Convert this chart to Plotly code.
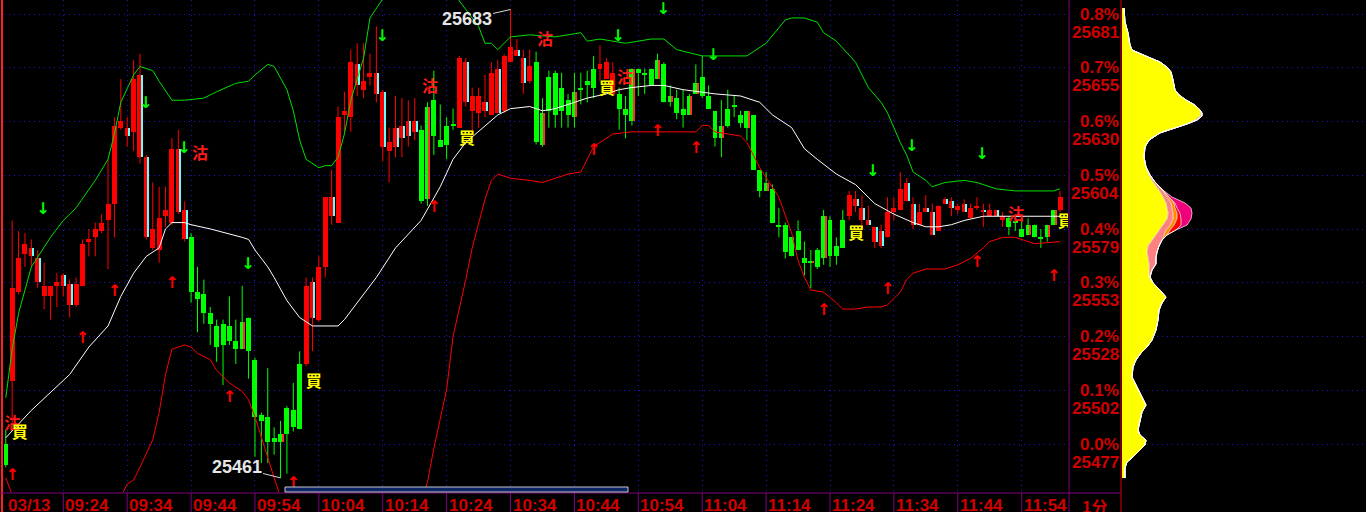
import plotly.graph_objects as go

# ---------------- data ----------------
base_price = 25477            # previous close (0.0%)
session_date = "03/13"
period_label = "1分"

# 1-minute bars, index 0 = 09:15 ... 165 = 12:00
open_ = [25477,25507,25549,25567,25570,25565,25547,25547,25552,25557,25553,25543,25552,25573,25575,25578,25583,25591,25627,25627,
         25625,25652,25613,25570,25569,25585,25582,25617,25588,25575,25549,25548,25539,25533,25534,25533,25526,25522,25537,25517,
         25491,25490,25480,25478,25494,25493,25515,25515,25554,25536,25561,25594,25582,25633,25632,25657,25645,25651,25653,25644,
         25616,25627,25628,25630,25630,25626,25593,25640,25621,25628,25628,25627,25658,25635,25634,25639,25633,25655,25635,25658,
         25664,25660,25649,25658,25619,25651,25653,25646,25640,25632,25645,25649,25655,25655,25650,25643,25643,25636,25630,25655,
         25653,25655,25650,25657,25639,25641,25636,25633,25643,25651,25642,25635,25622,25636,25637,25633,25627,25633,25607,25597,
         25598,25581,25581,25575,25578,25565,25563,25569,25565,25583,25571,25583,25585,25593,25589,25583,25580,25578,25575,25587,
         25588,25601,25591,25581,25589,25587,25578,25593,25592,25588,25591,25584,25589,25588,25585,25588,25583,25584,25582,25579,
         25576,25581,25575,25575,25581,25588]
high = [25484,25583,25578,25577,25574,25569,25563,25552,25558,25558,25555,25556,25574,25579,25582,25586,25612,25632,25650,25632,
        25659,25662,25614,25601,25599,25599,25622,25626,25592,25577,25561,25555,25542,25536,25536,25547,25536,25552,25537,25518,
        25492,25513,25485,25488,25495,25506,25521,25556,25556,25566,25594,25607,25637,25644,25664,25667,25667,25662,25675,25645,
        25627,25642,25641,25640,25641,25628,25639,25654,25638,25632,25636,25661,25660,25646,25646,25652,25658,25659,25662,25683,
        25669,25664,25664,25663,25641,25654,25654,25653,25643,25653,25653,25654,25661,25666,25660,25658,25646,25642,25655,25655,
        25655,25655,25662,25658,25647,25645,25645,25643,25657,25661,25647,25635,25640,25645,25642,25635,25635,25633,25607,25606,
        25600,25589,25582,25575,25583,25573,25569,25570,25588,25585,25575,25588,25597,25597,25595,25590,25580,25581,25594,25594,
        25606,25603,25594,25591,25595,25591,25590,25594,25594,25591,25593,25591,25594,25591,25591,25588,25587,25585,25585,25583,
        25584,25581,25579,25581,25588,25597]
low = [25466,25487,25548,25561,25561,25551,25541,25536,25542,25547,25537,25542,25552,25566,25566,25577,25560,25575,25626,25618,
       25616,25610,25574,25569,25563,25580,25581,25586,25573,25544,25530,25534,25524,25516,25505,25524,25515,25522,25508,25471,
       25468,25468,25472,25461,25463,25483,25484,25514,25521,25535,25556,25581,25582,25625,25625,25642,25641,25647,25639,25611,
       25601,25613,25613,25618,25621,25591,25590,25614,25618,25612,25626,25627,25637,25625,25627,25632,25633,25634,25634,25658,
       25661,25643,25648,25619,25618,25627,25627,25627,25627,25627,25638,25639,25641,25649,25650,25643,25626,25622,25628,25642,
       25643,25647,25650,25639,25637,25631,25627,25633,25643,25641,25636,25618,25613,25627,25632,25627,25621,25607,25594,25597,
       25582,25575,25565,25566,25569,25557,25551,25560,25562,25561,25562,25570,25583,25587,25579,25581,25570,25570,25575,25583,
       25588,25592,25579,25581,25587,25576,25578,25591,25585,25586,25587,25584,25588,25580,25585,25585,25580,25576,25578,25575,
       25576,25575,25570,25573,25581,25587]
close = [25467,25551,25565,25572,25566,25554,25552,25552,25554,25552,25543,25553,25572,25574,25579,25582,25591,25628,25630,25623,
         25650,25613,25575,25579,25584,25588,25617,25587,25574,25549,25546,25539,25534,25523,25524,25526,25522,25535,25521,25490,
         25488,25478,25478,25482,25482,25485,25484,25552,25537,25561,25594,25585,25632,25635,25658,25647,25649,25653,25643,25618,
         25620,25618,25622,25623,25625,25592,25637,25623,25618,25619,25628,25660,25639,25642,25642,25635,25653,25634,25661,25665,
         25661,25648,25656,25620,25634,25635,25633,25635,25633,25644,25645,25647,25646,25657,25658,25653,25636,25633,25655,25653,
         25652,25647,25659,25639,25642,25634,25633,25642,25648,25642,25636,25622,25628,25628,25637,25629,25635,25607,25597,25601,
         25582,25580,25568,25566,25569,25563,25564,25561,25585,25566,25566,25570,25595,25590,25583,25581,25573,25571,25587,25589,
         25598,25592,25581,25587,25587,25576,25590,25591,25589,25590,25587,25589,25589,25587,25588,25585,25585,25580,25582,25575,
         25581,25575,25574,25581,25588,25594]
# signal colour of each bar (R = red regime, G = green regime)
regime = ("G" + "R" * 28 + "G" * 18 + "R" * 18 + "G" * 6 + "R" * 12 + "G" * 10 + "R" * 3
          + "G" * 36 + "R" * 25 + "G" * 8 + "R")

# bands (bar index, price)
upper_x = [0,1,2,4,7,9,11,14,16,17,18,20,21,23,24,26,28,31,33,36,38,39,41,42,44,45,46,47,49,50,51,52,53,54,56,57,59,62,66,70,
           71,74,75,76,77,79,82,86,88,90,91,93,97,101,103,105,109,116,119,122,123,125,127,128,130,133,135,137,138,139,140,141,142,
           144,145,147,150,152,155,158,164,165]
upper_y = [25499,25522,25539,25561,25575,25583,25589,25602,25612,25624,25639,25652,25656,25654,25649,25640,25640,25641,25644,
           25648,25649,25652,25657,25656,25645,25635,25621,25612,25608,25609,25609,25613,25624,25640,25660,25679,25688,25700,
           25705,25695,25687,25675,25667,25667,25664,25670,25671,25670,25671,25672,25668,25669,25667,25669,25669,25664,25661,
           25661,25667,25678,25679,25679,25677,25672,25668,25658,25646,25639,25634,25627,25620,25614,25606,25602,25599,25601,
           25602,25601,25598,25597,25597,25598]
mid_x = [0,4,10,13,16,18,20,22,24,25,26,28,29,32,37,38,39,41,42,44,46,48,49,52,53,58,61,65,68,70,72,75,77,79,82,84,86,89,91,94,
         96,98,101,103,106,111,115,118,120,123,125,127,130,133,136,139,142,144,146,148,150,153,158,165]
mid_y = [25480,25493,25510,25523,25533,25547,25558,25566,25570,25579,25582,25582,25581,25579,25575,25574,25569,25561,25556,
         25545,25537,25533,25533,25533,25536,25556,25570,25583,25599,25612,25620,25628,25633,25636,25637,25635,25636,25639,
         25641,25643,25645,25646,25647,25647,25645,25643,25642,25639,25633,25627,25617,25612,25605,25600,25591,25586,25582,
         25580,25580,25581,25583,25585,25585,25585]
lower_x = [0,2,8,14,18,19,20,21,23,24,25,26,28,29,30,32,33,35,37,38,39,40,41,42,43,48,56,62,66,67,69,70,72,73,75,76,77,79,82,84,
           86,88,90,91,92,95,98,101,105,108,109,110,111,113,115,116,118,121,123,124,125,126,128,130,131,133,135,137,138,140,141,
           142,144,147,148,149,151,153,154,156,158,160,161,165]
lower_y = [25461,25445,25430,25435,25452,25458,25460,25466,25479,25492,25510,25522,25524,25523,25520,25517,25512,25506,25502,
           25498,25490,25480,25471,25461,25452,25420,25400,25420,25459,25475,25503,25528,25555,25570,25593,25602,25605,25603,
           25602,25601,25603,25605,25606,25612,25618,25624,25625,25625,25625,25625,25628,25628,25625,25624,25623,25620,25608,
           25594,25577,25564,25556,25550,25549,25544,25541,25541,25542,25542,25543,25549,25555,25558,25560,25560,25561,25562,
           25565,25570,25573,25575,25575,25573,25572,25573]

# trade signals
sell_x = [1.0, 30.4, 66.4, 84.4, 96.9, 158.1]
sell_y = [25486, 25614, 25646, 25668, 25650, 25585]
buy_x = [2.2, 48.2, 72.2, 94.1, 133.1, 165.9]
buy_y = [25482, 25506, 25621, 25645, 25576, 25582]
down_arrow_x = [5.8, 21.9, 27.9, 37.9, 58.9, 83.0, 95.8, 102.9, 110.7, 135.7, 141.8, 152.8]
down_arrow_y = [25588, 25638, 25617, 25562, 25670, 25690, 25670, 25683, 25661, 25606, 25618, 25614]
up_arrow_x = [1, 12, 17, 26, 35, 45, 67, 92, 102, 108, 128, 138, 152, 164]
up_arrow_y = [25462, 25527, 25549, 25553, 25499, 25458, 25589, 25616, 25625, 25617, 25540, 25550, 25563, 25556]

# extremes
hi_bar, hi_price = 79, 25683
lo_bar, lo_price = 43, 25461

# axis labels
time_tick_bars = [9, 19, 29, 39, 49, 59, 69, 79, 89, 99, 109, 119, 129, 139, 149, 159]
time_tick_labels = ["09:24", "09:34", "09:44", "09:54", "10:04", "10:14", "10:24", "10:34",
                    "10:44", "10:54", "11:04", "11:14", "11:24", "11:34", "11:44", "11:54"]
pct_ticks = [0.8, 0.7, 0.6, 0.5, 0.4, 0.3, 0.2, 0.1, 0.0]
pct_labels = ["0.8%", "0.7%", "0.6%", "0.5%", "0.4%", "0.3%", "0.2%", "0.1%", "0.0%"]
price_labels = ["25681", "25655", "25630", "25604", "25579", "25553", "25528", "25502", "25477"]

# volume-at-price profile (price, width per layer)
vp_price = [25683.7,25680.9,25677.1,25671.9,25666.2,25663.8,25662.4,25660.5,25658.1,25655.7,25653.4,25649.6,25644.8,25642.5,
            25640.1,25637.7,25635.4,25633.9,25632.5,25630.6,25628.7,25626.8,25624.5,25621.1,25617.8,25613.1,25608.3,25604.6,
            25601.2,25597.4,25594.1,25591.3,25588.9,25586.5,25583.7,25580.8,25578.5,25576.1,25573.7,25570.9,25568.0,25565.2,
            25562.4,25559.5,25556.2,25553.4,25550.0,25546.7,25543.9,25540.5,25535.8,25531.1,25526.3,25523.0,25520.2,25516.9,
            25513.5,25508.8,25504.1,25499.3,25495.5,25492.2,25488.4,25483.7,25481.3,25478.9,25476.6,25474.2,25470.9,25468.5,
            25465.7,25460.9]
vp_yellow = [2,2,3,6,8,10,16,26,38,45,49,51,53,57,64,73,78,79,78,73,64,52,38,27,23,22,24,27,31,37,41,44,45,46,45,41,37,34,30,
             26,25,26,27,27,27,31,38,44,40,37,36,34,30,25,19,14,11,10,15,20,24,20,18,16,18,24,23,18,11,5,3,3]
vp_salmon = [0]*17 + [1,2,2,1,1] + [0]*5 + [1,2,3,4,5,5,5,6,7,7,8,10,11,10,8,7,3,1] + [0]*27
vp_orange = [0]*29 + [1,2,3,3,4,4,4,4,3] + [0]*34
vp_red = [0]*30 + [0,1,2,3,4,7,6] + [0]*35
vp_magenta = [0]*30 + [3,10,14,12,10,6] + [0]*36

# ---------------- figure ----------------
W, H = 1366, 512
fig = go.Figure()

RED, GREEN = "#ff0000", "#00ff00"
for reg, col in (("R", RED), ("G", GREEN)):
    idx = [i for i in range(len(open_)) if regime[i] == reg]
    wx, wy = [], []
    for i in idx:
        wx += [i, i, None]
        wy += [low[i], high[i], None]
    fig.add_trace(go.Scatter(x=wx, y=wy, mode="lines", line=dict(color=col, width=1),
                             hoverinfo="skip"))
    fig.add_trace(go.Bar(x=idx, y=[max(abs(close[i] - open_[i]), 0.6) for i in idx],
                         base=[min(open_[i], close[i]) for i in idx], width=0.78,
                         marker=dict(color=col, line=dict(width=0)), hoverinfo="skip"))
# edge highlight: red bars that fell (cyan edge) / green bars that rose (red edge)
for reg, cond, col in (("R", lambda i: close[i] < open_[i], "#66ffff"),
                       ("G", lambda i: close[i] > open_[i], "#ff3030")):
    idx = [i for i in range(len(open_)) if regime[i] == reg and cond(i)]
    fig.add_trace(go.Bar(x=idx, y=[abs(close[i] - open_[i]) for i in idx],
                         base=[min(open_[i], close[i]) for i in idx], width=0.16, offset=0.23,
                         marker=dict(color=col, line=dict(width=0)), hoverinfo="skip"))

fig.add_trace(go.Scatter(x=upper_x, y=upper_y, mode="lines", line=dict(color="#00e000", width=1), hoverinfo="skip"))
fig.add_trace(go.Scatter(x=lower_x, y=lower_y, mode="lines", line=dict(color="#ff0000", width=1), hoverinfo="skip"))
fig.add_trace(go.Scatter(x=mid_x, y=mid_y, mode="lines", line=dict(color="#ffffff", width=1), hoverinfo="skip"))

fig.add_trace(go.Scatter(x=down_arrow_x, y=down_arrow_y, mode="text", text=["<b>↓</b>"] * len(down_arrow_x),
                         textfont=dict(color="#00ff00", size=16, family="DejaVu Sans"), hoverinfo="skip"))
fig.add_trace(go.Scatter(x=up_arrow_x, y=up_arrow_y, mode="text", text=["<b>↑</b>"] * len(up_arrow_x),
                         textfont=dict(color="#ff0000", size=16, family="DejaVu Sans"), hoverinfo="skip"))
fig.add_trace(go.Scatter(x=sell_x, y=sell_y, mode="text", text=["<b>沽</b>"] * len(sell_x),
                         textfont=dict(color="#ff1a1a", size=16, family="Noto Sans CJK TC"), hoverinfo="skip"))
fig.add_trace(go.Scatter(x=buy_x, y=buy_y, mode="text", text=["<b>買</b>"] * len(buy_x),
                         textfont=dict(color="#ffff00", size=16, family="Noto Sans CJK TC"), hoverinfo="skip"))

# volume profile
for vals, col in ((vp_yellow, "#ffff00"), (vp_salmon, "#ff8080"), (vp_orange, "#ff8c00"),
                  (vp_red, "#ff0000"), (vp_magenta, "#f0007a")):
    fig.add_trace(go.Scatter(x=vals, y=vp_price, xaxis="x2", yaxis="y", stackgroup="vp", orientation="h",
                             mode="lines", line=dict(color="#ffffff", width=0.7), fillcolor=col,
                             hoverinfo="skip"))

grid_prices = [base_price * (1 + p / 100) for p in pct_ticks]
GRID = "#1818c8"
y_lo, y_hi = 25454.3, 25687.5
fig.update_layout(
    width=W, height=H, margin=dict(l=0, r=0, t=0, b=0),
    paper_bgcolor="#000000", plot_bgcolor="#000000", showlegend=False,
    barmode="overlay", bargap=0,
    xaxis=dict(domain=[4 / W, 1068 / W], range=[-0.28, 166.25], tickmode="array", tickvals=time_tick_bars,
               showticklabels=False, ticks="", showgrid=True, gridcolor=GRID, griddash="1px,4px", gridwidth=1,
               zeroline=False, showline=False),
    yaxis=dict(domain=[20 / H, 1], range=[y_lo, y_hi], tickmode="array", tickvals=grid_prices,
               showticklabels=False, ticks="", showgrid=True, gridcolor=GRID, griddash="1px,4px", gridwidth=1,
               zeroline=False, showline=False),
    xaxis2=dict(domain=[1122 / W, 1], range=[0, 244], anchor="y", visible=False, showgrid=False,
                zeroline=False),
)

LBL = "#d00000"
ann = []
for p, pl, pr in zip(grid_prices, pct_labels, price_labels):
    ann.append(dict(x=1121 / W, xref="paper", y=p, yref="y", text=f"<b>{pl}</b>", showarrow=False,
                    xanchor="right", yanchor="middle", font=dict(color=LBL, size=17, family="Liberation Sans")))
    ann.append(dict(x=1121 / W, xref="paper", y=p, yref="y", yshift=-18, text=f"<b>{pr}</b>", showarrow=False,
                    xanchor="right", yanchor="middle", font=dict(color=LBL, size=17, family="Liberation Sans")))
for b, t in zip(time_tick_bars, time_tick_labels):
    ann.append(dict(x=b, xref="x", xshift=0, y=(H - 494) / H, yref="paper", text=f"<b>{t}</b>", showarrow=False,
                    xanchor="left", yanchor="top", font=dict(color=LBL, size=17, family="Liberation Sans")))
ann.append(dict(x=6 / W, xref="paper", y=(H - 494) / H, yref="paper", text=f"<b>{session_date}</b>",
                showarrow=False, xanchor="left", yanchor="top", font=dict(color=LBL, size=17, family="Liberation Sans")))
ann.append(dict(x=1094 / W, xref="paper", y=(H - 492) / H, yref="paper", text=f"<b>{period_label}</b>",
                showarrow=False, xanchor="center", yanchor="top",
                font=dict(color=LBL, size=16, family="Noto Sans CJK SC")))
ann.append(dict(x=hi_bar, y=hi_price, xref="x", yref="y", text=f"<b>{hi_price}</b>", showarrow=True,
                arrowhead=0, arrowwidth=1, arrowcolor="#d8d8d8", ax=-44, ay=10,
                font=dict(color="#e6e6e6", size=18, family="Liberation Sans")))
ann.append(dict(x=lo_bar, y=lo_price, xref="x", yref="y", text=f"<b>{lo_price}</b>", showarrow=True,
                arrowhead=0, arrowwidth=1, arrowcolor="#d8d8d8", ax=-44, ay=-11,
                font=dict(color="#e6e6e6", size=18, family="Liberation Sans")))
fig.update_layout(annotations=ann)

PURPLE = "#800080"
line_y = (H - 493) / H
shapes = [
    dict(type="line", xref="paper", yref="paper", x0=2 / W, x1=2 / W, y0=0, y1=1, line=dict(color="#ff2020", width=2)),
    dict(type="line", xref="paper", yref="paper", x0=1069 / W, x1=1069 / W, y0=0, y1=1, line=dict(color=PURPLE, width=1)),
    dict(type="line", xref="paper", yref="paper", x0=1121 / W, x1=1121 / W, y0=0, y1=1, line=dict(color="#e00000", width=1)),
    dict(type="line", xref="paper", yref="paper", x0=0, x1=1121 / W, y0=line_y, y1=line_y, line=dict(color=PURPLE, width=1)),
    dict(type="rect", xref="paper", yref="paper", x0=285 / W, x1=628 / W, y0=(H - 492) / H, y1=(H - 487) / H,
         fillcolor="#0a2466", line=dict(color="#c8c8c8", width=1)),
]
for b in time_tick_bars:
    shapes.append(dict(type="line", xref="x", yref="paper", x0=b, x1=b, y0=0, y1=line_y,
                       line=dict(color=PURPLE, width=1)))
fig.update_layout(shapes=shapes)

fig.write_html("out.html", config={"displayModeBar": False},
               post_script="document.body.style.margin='0';document.body.style.overflow='hidden';")
